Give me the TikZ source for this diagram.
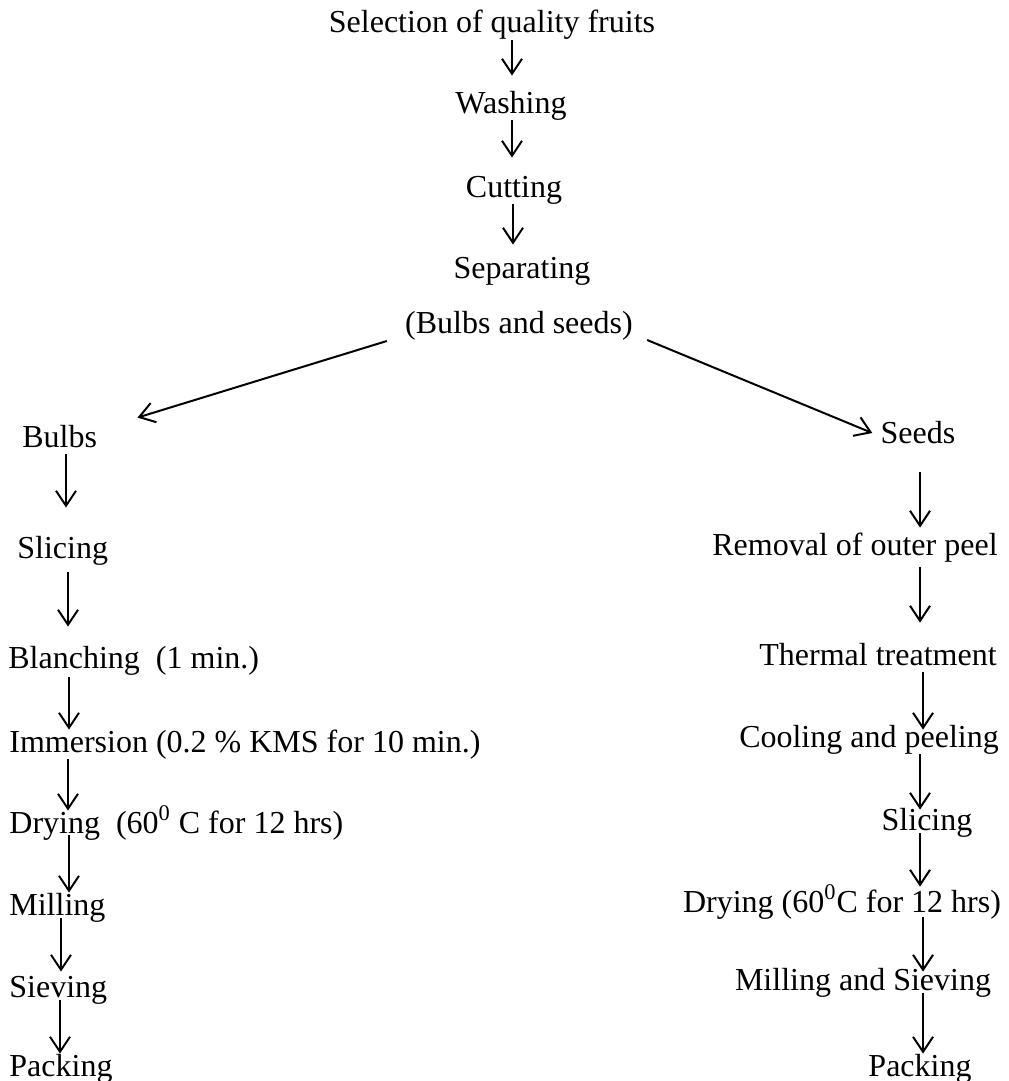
\documentclass[tikz,border=0pt]{standalone}
\usepackage{fontspec}
\setmainfont{Liberation Serif}
\usetikzlibrary{arrows.meta,calc}

\begin{document}
\begin{tikzpicture}[x=0.5pt,y=-0.5pt,
	stage/.style={inner sep=0pt, text height=11pt, text depth=3.5pt, anchor=base, font=\fontsize{16}{19}\selectfont},
	stageL/.style={stage, anchor=base west},
	flow/.style={-{Straight Barb[length=7.5pt,width=10pt]}, line width=1pt}]
	\useasboundingbox (0,0) rectangle (1008,1081);
	% common steps
	\node (sel)  at (492,  33)	[stage]	{Selection of quality fruits};
	\node (wash) at (511, 113)	[stage]	{Washing};
	\node (cut)  at (514, 197)	[stage]	{Cutting};
	\node (sep)  at (522, 278)	[stage]	{Separating};
	\node (note) at (519, 333)	[stage]	{(Bulbs and seeds)};
	% bulbs
	\node (bulbs)  at (22, 447)	[stageL]	{Bulbs};
	\node (bslice) at (17, 558)	[stageL]	{Slicing};
	\node (blanch) at (8, 668)	[stageL]	{Blanching\ \ (1 min.)};
	\node (immer)  at (9, 752)	[stageL]	{Immersion (0.2 \% KMS for 10 min.)};
	\node (bdry)   at (9, 833)	[stageL]	{Drying\ \ (60\textsuperscript{0} C for 12 hrs)};
	\node (bmill)  at (9, 915)	[stageL]	{Milling};
	\node (bsieve) at (9, 997)	[stageL]	{Sieving};
	\node (bpack)  at (9, 1076)	[stageL]	{Packing};
	% seeds
	\node (seeds)  at (918, 443)	[stage]	{Seeds};
	\node (peel)   at (855, 555)	[stage]	{Removal of outer peel};
	\node (therm)  at (878, 665)	[stage]	{Thermal treatment};
	\node (cool)   at (869, 747)	[stage]	{Cooling and peeling};
	\node (sslice) at (927, 830)	[stage]	{Slicing};
	\node (sdry)   at (842, 912)	[stage]	{Drying (60\textsuperscript{0}C for 12 hrs)};
	\node (smill)  at (863, 990)	[stage]	{Milling and Sieving};
	\node (spack)  at (920, 1076)	[stage]	{Packing};

	\draw[flow, shorten >=7.5pt] (sel.south -| 512,0) -- (wash.north -| 512,0);
	\draw[flow, shorten >=8.5pt] (wash.south -| 512,0) -- (cut.north -| 512,0);
	\draw[flow, shorten >=5.5pt] (cut.south -| 513,0) -- (sep.north -| 513,0);

	\draw[flow] ($(note.base west)+(-18,8)$) -- ($(bulbs.north east)+(40,-7)$);
	\draw[flow] ($(note.base east)+(14,7)$) -- ($(seeds.base west)+(-8,-10)$);

	\draw[flow, shorten >=14pt] (bulbs.south -| 66,0) -- (bslice.north -| 66,0);
	\draw[flow, shorten <=3.5pt, shorten >=9.5pt] (bslice.south -| 68,0) -- (blanch.north -| 68,0);
	\draw[flow, shorten <=1pt] (blanch.south -| 69,0) -- (immer.north -| 69,0);
	\draw[flow] (immer.south -| 68,0) -- (bdry.north -| 68,0);
	\draw[flow, shorten <=-2.5pt] (bdry.south -| 69,0) -- (bmill.north -| 69,0);
	\draw[flow, shorten <=-2pt, shorten >=1.5pt] (bmill.south -| 61,0) -- (bsieve.north -| 61,0);
	\draw[flow, shorten <=-2pt] (bsieve.south -| 60,0) -- (bpack.north -| 60,0);

	\draw[flow, shorten <=11pt, shorten >=2.5pt] (seeds.south -| 920,0) -- (peel.north -| 920,0);
	\draw[flow, shorten <=2.5pt, shorten >=10pt] (peel.south -| 920,0) -- (therm.north -| 920,0);
	\draw[flow, shorten >=-2.5pt] (therm.south -| 923,0) -- (cool.north -| 923,0);
	\draw[flow, shorten >=-1pt] (cool.south -| 920,0) -- (sslice.north -| 920,0);
	\draw[flow, shorten <=-2pt, shorten >=1.5pt] (sslice.south -| 920,0) -- (sdry.north -| 920,0);
	\draw[flow, shorten <=-1pt, shorten >=-2pt] (sdry.south -| 923,0) -- (smill.north -| 923,0);
	\draw[flow, shorten <=-2pt] (smill.south -| 923,0) -- (spack.north -| 923,0);
\end{tikzpicture}
\end{document}
